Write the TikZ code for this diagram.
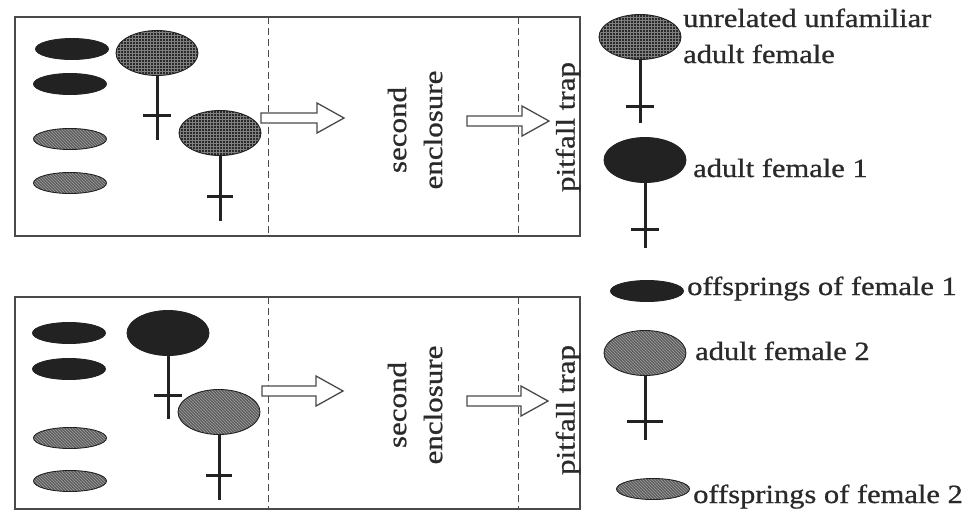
\documentclass[tikz,border=0pt]{standalone}
\usepackage{fontspec}
\usepackage{graphicx}
\setmainfont{Liberation Serif}
\usetikzlibrary{shapes.geometric,patterns}
\definecolor{dk}{HTML}{222222}
\definecolor{gridbg}{HTML}{2A2A2A}
\definecolor{gridln}{HTML}{808080}
\definecolor{hatchbg}{HTML}{5E5E5E}
\definecolor{hatchln}{HTML}{A0A0A0}
\definecolor{frame}{HTML}{4A4A4A}
\definecolor{txt}{HTML}{2A2A2A}
\newcommand{\sq}[1]{\scalebox{1}[0.86]{#1}}
\newcommand{\femsym}[4]{% node, stem length, cross offset, half bar
  \draw[stemline] (#1.south) -- ++(0,#2);
  \draw[stemline] ([xshift=-#4pt,yshift=-#3pt]#1.south) -- ++(2*#4,0);}
\newcommand{\blockarrow}[3]{% x0, xtip, yc
  \draw[arrowline] (#1,#3-5) -- (#2-27,#3-5) -- (#2-27,#3-15) -- (#2,#3)
    -- (#2-27,#3+15) -- (#2-27,#3+5) -- (#1,#3+5) -- cycle;}
\tikzset{
  bigell/.style={ellipse, minimum width=82pt, minimum height=45pt, inner sep=0pt, draw=dk, line width=0.9pt},
  smallell/.style={ellipse, minimum width=73pt, minimum height=21pt, inner sep=0pt, draw=dk, line width=0.9pt},
  darkf/.style={fill=dk},
  gridf/.style={preaction={fill=gridbg}, pattern=grid, pattern color=gridln},
  hatchf/.style={preaction={fill=hatchbg}, pattern=north west lines, pattern color=hatchln},
  stemline/.style={line width=3pt, draw=dk},
  framebox/.style={draw=frame, line width=1.5pt},
  divider/.style={draw=frame, line width=0.9pt, dash pattern=on 7pt off 4pt},
  arrowline/.style={draw=frame, fill=white, line width=1.3pt, line join=miter},
  lbl/.style={font=\fontsize{30.5}{36}\selectfont\addfontfeatures{FakeBold=0.8}, inner sep=0pt, anchor=base west, text=txt},
  rtxt/.style={font=\fontsize{31}{36}\selectfont\addfontfeatures{FakeBold=0.8}, inner sep=0pt, rotate=90, align=center, text=txt},
}
\begin{document}
\begin{tikzpicture}[x=1pt, y=-1pt]
\useasboundingbox (0,0) rectangle (980,512);
% ---------- top panel ----------
\draw[framebox] (15,17) rectangle (580,236);
\draw[divider] (268,17) -- (268,236);
\draw[divider] (518,17) -- (518,236);
\node[smallell, darkf] (ta1) at (72,49) {};
\node[smallell, darkf] (ta2) at (70,84) {};
\node[smallell, hatchf] (ta3) at (70,139) {};
\node[smallell, hatchf] (ta4) at (70,183) {};
\node[bigell, gridf] (tf1) at (157,53) {};
\femsym{tf1}{64}{40}{14}
\node[bigell, gridf] (tf2) at (220,133) {};
\femsym{tf2}{65}{41}{13}
\blockarrow{261}{344}{118}
\blockarrow{467}{549}{121}
\node[rtxt] (tse) at (415,130) {\sq{second}\\\sq{enclosure}};
\node[rtxt] (tpt) at (568,127) {\sq{pitfall trap}};
% ---------- bottom panel ----------
\draw[framebox] (15,297) rectangle (580,509);
\draw[divider] (268,297) -- (268,509);
\draw[divider] (518,297) -- (518,509);
\node[smallell, darkf] (ba1) at (69,333) {};
\node[smallell, darkf] (ba2) at (69,369) {};
\node[smallell, hatchf] (ba3) at (70,438) {};
\node[smallell, hatchf] (ba4) at (70,481) {};
\node[bigell, darkf] (bf1) at (168,333) {};
\femsym{bf1}{63}{40}{14}
\node[bigell, hatchf] (bf2) at (219,412) {};
\femsym{bf2}{65}{41}{13}
\blockarrow{262}{343}{391}
\blockarrow{467}{548}{401}
\node[rtxt] (bse) at (415,405) {\sq{second}\\\sq{enclosure}};
\node[rtxt] (bpt) at (568,410) {\sq{pitfall trap}};
% ---------- legend ----------
\node[bigell, gridf] (lg1) at (640,37) {};
\femsym{lg1}{63}{47}{14}
\node[lbl] (lt1) at (683,27) {\sq{unrelated unfamiliar}};
\node[lbl] (lt1b) at (683,63) {\sq{adult female}};
\node[bigell, darkf] (lg2) at (645,160) {};
\femsym{lg2}{65}{47}{14}
\node[lbl] (lt2) at (693,177) {\sq{adult female 1}};
\node[smallell, darkf] (lg3) at (647,291) {};
\node[lbl] (lt3) at (687,295) {\sq{offsprings of female 1}};
\node[bigell, hatchf] (lg4) at (645,353) {};
\femsym{lg4}{64}{46}{18}
\node[lbl] (lt4) at (695,360) {\sq{adult female 2}};
\node[smallell, hatchf] (lg5) at (653,489) {};
\node[lbl] (lt5) at (693,503) {\sq{offsprings of female 2}};
\end{tikzpicture}
\end{document}
